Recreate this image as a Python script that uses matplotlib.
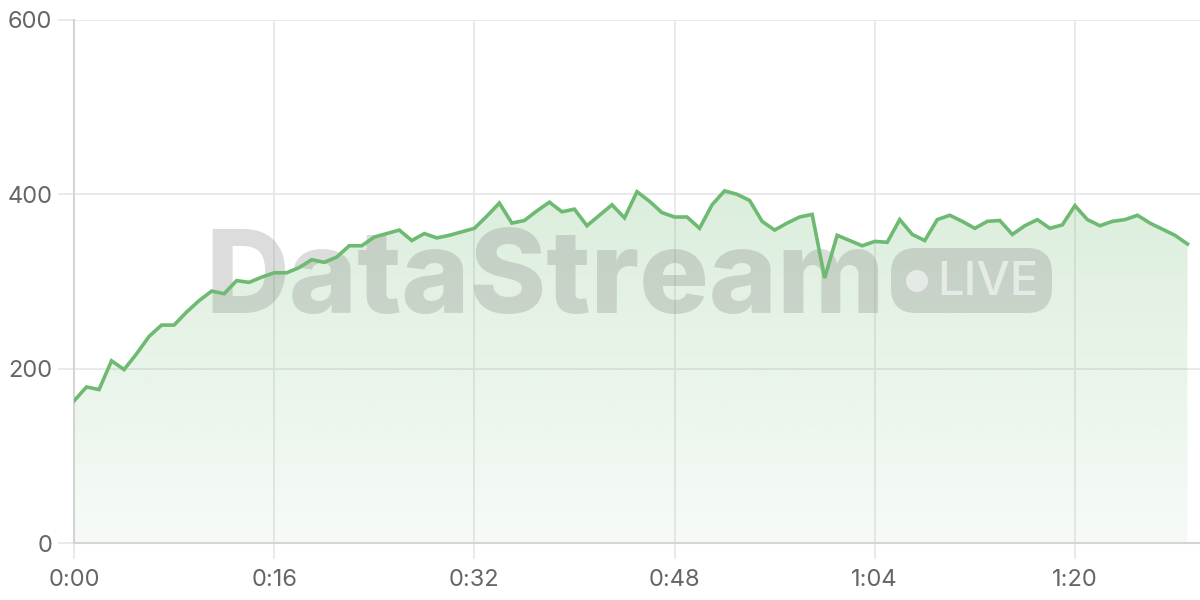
import matplotlib
matplotlib.use("Agg")
import matplotlib.pyplot as plt
import numpy as np
from matplotlib.colors import LinearSegmentedColormap, to_rgb
from matplotlib.patches import Circle, FancyBboxPatch
from matplotlib.ticker import FuncFormatter

# one sample per second
seconds = list(range(90))
values = [
    163, 179, 176, 209, 199, 217, 237, 250, 250, 265,
    278, 289, 286, 301, 299, 305, 310, 310, 316, 325,
    322, 328, 341, 341, 351, 355, 359, 347, 355, 350,
    353, 357, 361, 375, 390, 367, 370, 381, 391, 380,
    383, 364, 376, 388, 373, 403, 392, 379, 374, 374,
    361, 388, 404, 400, 393, 369, 359, 367, 374, 377,
    304, 353, 347, 341, 346, 345, 371, 354, 347, 371,
    376, 369, 361, 369, 370, 354, 364, 371, 361, 365,
    387, 371, 364, 369, 371, 376, 367, 360, 353, 343,
]
x_ticks = [0, 16, 32, 48, 64, 80]
y_ticks = [0, 200, 400, 600]

LINE = "#6fba72"
GRID = "#e6e6e6"
AXIS = "#d4d4d4"
TEXT = "#666666"

plt.rcParams["font.family"] = ["Inter", "DejaVu Sans"]

fig = plt.figure(figsize=(12, 6), dpi=100, facecolor="white")
ax = fig.add_axes([74 / 1200, 57 / 600, 1 - 74 / 1200, 523 / 600])

x = np.array(seconds, dtype=float)
y = np.array(values, dtype=float)

# gradient fill under the line
poly = ax.fill_between(x, y, 0, color="none", linewidth=0, zorder=1)
r, g, b = to_rgb(LINE)
cmap = LinearSegmentedColormap.from_list(
    "fade", [(r, g, b, 0.06), (r, g, b, 0.25)]
)
grad = np.linspace(0, 1, 256).reshape(-1, 1)
img = ax.imshow(grad, cmap=cmap, origin="lower", aspect="auto",
                extent=[0, 90, 0, y.max()], zorder=1, interpolation="bicubic")
img.set_clip_path(poly.get_paths()[0], transform=ax.transData)
ax.set_xlim(0, 90)
ax.set_ylim(0, 600)

# watermark between fill and line (positions in inches)
tr = fig.dpi_scale_trans
ax.text(5.45, 2.87, "DataStream", transform=tr, ha="center", va="baseline",
        fontsize=83.5, fontweight="heavy", family="Inter",
        color="#808080", alpha=0.27, zorder=2)
badge = FancyBboxPatch((8.91 + 0.25, 2.87 + 0.25), 1.61 - 0.5, 0.65 - 0.5,
                       boxstyle="round,pad=0.25", transform=tr,
                       facecolor="#808080", alpha=0.27, edgecolor="none", zorder=2)
ax.add_artist(badge)
ax.add_artist(Circle((9.17, 3.19), 0.11, transform=tr, facecolor="white",
                     alpha=0.55, edgecolor="none", zorder=2))
ax.text(9.37, 3.05, "LIVE", transform=tr, ha="left", va="baseline",
        fontsize=34, fontweight="medium", family="Inter", color="white",
        alpha=0.55, zorder=2)

ax.plot(x, y, color=LINE, linewidth=2.6, solid_joinstyle="miter", zorder=3)

ax.set_xticks(x_ticks)
ax.set_yticks(y_ticks)
ax.xaxis.set_major_formatter(FuncFormatter(lambda v, p: f"{int(v) // 60}:{int(v) % 60:02d}"))
ax.grid(True, color=GRID, linewidth=1.2, zorder=0)
ax.set_axisbelow(True)
for side in ("top", "right"):
    ax.spines[side].set_visible(False)
for side in ("left", "bottom"):
    ax.spines[side].set_color(AXIS)
    ax.spines[side].set_linewidth(1.5)
ax.tick_params(axis="both", length=11.5, width=1.2, color=GRID,
               labelcolor=TEXT, labelsize=17)
ax.tick_params(axis="x", pad=7)
ax.tick_params(axis="y", pad=4)

fig.savefig("out.png", dpi=100)
